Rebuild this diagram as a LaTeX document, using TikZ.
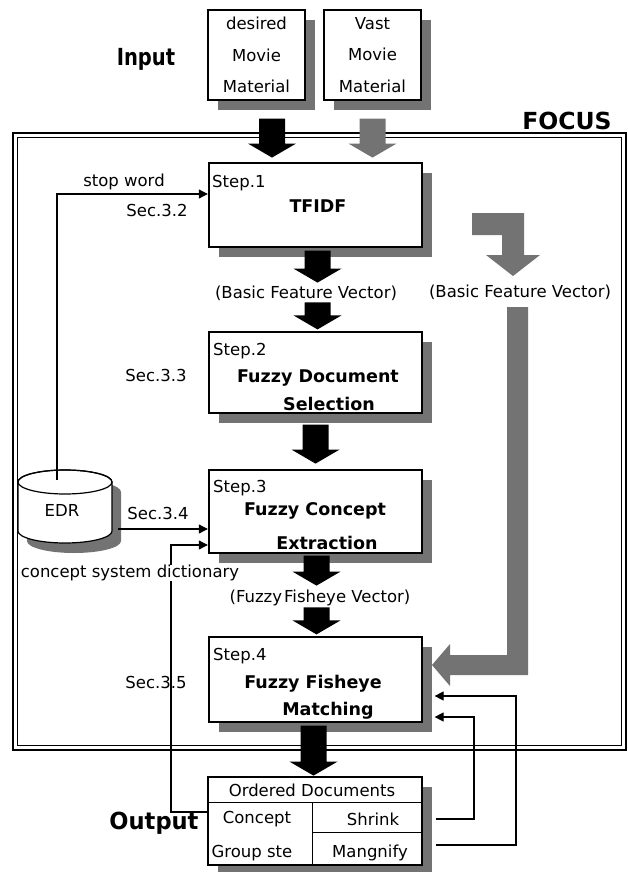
\documentclass[tikz,border=0pt]{standalone}
\usepackage{graphicx}
\usepackage{fontspec}
\setmainfont{DejaVu Sans}
\usetikzlibrary{calc,arrows.meta,shadows}
\definecolor{dgray}{gray}{0.45}
\newcommand{\blockdown}[3][black]{\fill[#1] (#2) ++(-13,0) -- ++(26,0) -- ++(0,#3-14) -- ++(11,0) -- ++(-24,14) -- ++(-24,-14) -- ++(11,0) -- cycle;}
\begin{document}
\begin{tikzpicture}[x=1pt,y=-1pt,
  every node/.style={inner sep=0pt, font=\fontsize{16.5}{19}\selectfont},
  box/.style={draw, line width=1.2pt, fill=white},
  shad/.style={drop shadow={shadow xshift=10pt,shadow yshift=-10pt,opacity=1,fill=dgray}},
  boldtxt/.style={font=\fontsize{17.5}{20}\selectfont\bfseries},
  conn/.style={line width=1.1pt, -{Triangle[length=9pt,width=9pt]}},
  title/.style={font=\fontsize{23.5}{26}\selectfont\bfseries}
]
\useasboundingbox (0,0) rectangle (627,872);

% FOCUS frame (double line)
\draw[line width=1.5pt] (13,133) rectangle (626,750);
\draw[line width=0.8pt] (17.5,137.5) rectangle (621.5,745.5);
\node[title] (focus) at (567,121) {FOCUS};

% titles
\node[title] (inp) at (146,59) {\scalebox{0.83}[1]{Input}};
\node[title] (outp) at (154,823) {\scalebox{0.96}[1]{Output}};

% input boxes
\node[box,shad,minimum width=97pt,minimum height=90pt,align=center,
      font=\fontsize{16.5}{31.5}\selectfont] (in1) at (256.5,55) {desired\\Movie\\Material};
\node[box,shad,minimum width=97pt,minimum height=90pt,align=center,
      font=\fontsize{16.5}{31.5}\selectfont] (in2) at (372.5,55) {Vast\\Movie\\Material};

% EDR cylinder
\fill[dgray, shift={(9,10)}] (18,482) -- (18,531) arc[start angle=180,end angle=0,x radius=47,y radius=12] -- (112,482) arc[start angle=0,end angle=-180,x radius=47,y radius=12] -- cycle;
\draw[line width=1.2pt, fill=white] (18,482) -- (18,531) arc[start angle=180,end angle=0,x radius=47,y radius=12] -- (112,482) arc[start angle=0,end angle=-180,x radius=47,y radius=12] -- cycle;
\draw[line width=1.2pt] (65,482) ellipse [x radius=47, y radius=12];
\node (edr) at (62,510) {EDR};
\coordinate (edrtop) at (57,480);
\coordinate (edrR) at (118,529);

% side labels
\node (stopw) at (124,182) {stop word};
\node (sec32) at (157,210) {Sec.3.2};
\node (sec33) at (156,375) {Sec.3.3};
\node (sec34) at (158,513) {Sec.3.4};
\node (sec35) at (156,682) {Sec.3.5};
\node (bfv1) at (306,293) {(Basic Feature Vector)};
\node (bfv2) at (520,292) {(Basic Feature Vector)};
\node (ffv) at (320,598) {(Fuzzy\hspace{2pt}Fisheye Vector)};

% step boxes
\node[box,shad,minimum width=213pt,minimum height=84pt] (s1) at (315.5,205) {};
\node[box,shad,minimum width=213pt,minimum height=81pt] (s2) at (315.5,372.5) {};
\node[box,shad,minimum width=213pt,minimum height=83pt] (s3) at (315.5,511.5) {};
\node[box,shad,minimum width=213pt,minimum height=85pt] (s4) at (315.5,679.5) {};

% output box
\node[box,shad,minimum width=214pt,minimum height=88pt] (out) at (315,821) {};
\draw[line width=1pt] (208.4,802) -- (421.6,802);
\draw[line width=1pt] (312,802) -- (312,865);
\draw[line width=1pt] (312,832) -- (421.6,832);
\node (od) at (312,790) {Ordered Documents};
\node (cc) at (257,819) {Concept};
\node (gs) at (252,853) {Group ste};
\node (sh) at (373,819) {Shrink};
\node (mg) at (370,853) {Mangnify};

% thin connectors
\coordinate (t1) at (207.8,194);
\coordinate (t3a) at (207.8,529);
\coordinate (t3b) at (207.8,545);
\draw[conn] (edrtop) |- (t1);
\draw[conn] (edrR) -- (t3a);
\draw[conn] ($(out.west)+(0,-9)$) -- (171,812) -- (171,545) -- (t3b);
\draw[conn] ($(out.east)+(13,-2)$) -- (474,819) -- (474,717) -- ($(s4.east)+(12,37.5)$);
\draw[conn] ($(out.east)+(13,24)$) -- (516,845) -- (516,696) -- ($(s4.east)+(12,16.5)$);
\node[fill=white] (csd) at (130,573) {concept system dictionary};

% block arrows
\blockdown{$(in1.south)+(15.5,18)$}{39}
\blockdown[dgray]{$(in2.south)+(0,18)$}{39}
\blockdown{$(s1.south)+(2,3)$}{32}
\blockdown{$(s2.north)+(2,-29)$}{27}
\blockdown{$(s2.south)+(0,11)$}{39}
\blockdown{$(s3.south)+(1,2)$}{30}
\blockdown{$(s4.north)+(1,-29)$}{27}
\blockdown{$(s4.south)+(-2,3)$}{50}

% gray bent arrows
\fill[dgray] (472,213) -- (524,213) -- (524,255) -- (540,255) -- (513,276) -- (486,255) -- (502,255) -- (502,235) -- (472,235) -- cycle;
\fill[dgray] (507,307) -- (528,307) -- (528,675) -- (450,675) -- (450,686) -- (432,665) -- (450,644) -- (450,655) -- (507,655) -- cycle;

% step texts
\node[anchor=west] (s1t) at (212,183) {Step.1};
\node[boldtxt] (s1n) at (318,206) {TFIDF};
\node[anchor=west] (s2t) at (213,351) {Step.2};
\node[boldtxt] (s2n) at (318,378) {Fuzzy Document};
\node[boldtxt] (s2m) at (329,404) {Selection};
\node[anchor=west] (s3t) at (213,488) {Step.3};
\node[boldtxt] (s3n) at (315,511) {Fuzzy Concept};
\node[boldtxt] (s3m) at (327,543) {Extraction};
\node[anchor=west] (s4t) at (213,656) {Step.4};
\node[boldtxt] (s4n) at (313,684) {Fuzzy Fisheye};
\node[boldtxt] (s4m) at (328,711) {Matching};
\end{tikzpicture}
\end{document}
